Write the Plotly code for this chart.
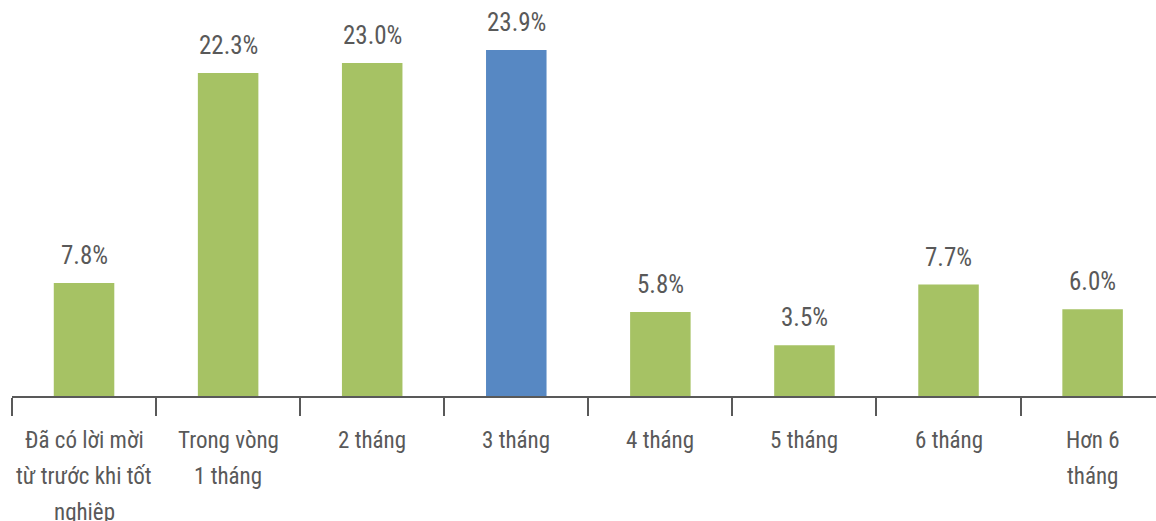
import plotly.graph_objects as go

# Time to first job after graduation (share of respondents, %)
categories = [
    "Đã có lời mời<br>từ trước khi tốt<br>nghiệp",
    "Trong vòng<br>1 tháng",
    "2 tháng",
    "3 tháng",
    "4 tháng",
    "5 tháng",
    "6 tháng",
    "Hơn 6<br>tháng",
]
values = [7.8, 22.3, 23.0, 23.9, 5.8, 3.5, 7.7, 6.0]
labels = ["7.8%", "22.3%", "23.0%", "23.9%", "5.8%", "3.5%", "7.7%", "6.0%"]

GREEN = "#A6C264"
BLUE = "#5788C3"
TEXT = "#595959"
FONT = "Liberation Sans Narrow, Roboto Condensed, Liberation Sans, sans-serif"

colors = [BLUE if c == "3 tháng" else GREEN for c in categories]

fig = go.Figure(
    go.Bar(
        x=categories,
        y=values,
        marker=dict(color=colors, line=dict(width=0)),
        width=0.42,
        hoverinfo="skip",
    )
)

# value labels above the bars
for c, v, t in zip(categories, values, labels):
    fig.add_annotation(
        x=c, y=v, text=t, showarrow=False,
        yanchor="bottom", yshift=11,
        font=dict(family=FONT, size=25, color=TEXT),
    )

# category labels, one annotation per line for wider line spacing
LINE_STEP = 36
for c in categories:
    for i, line in enumerate(c.split("<br>")):
        fig.add_annotation(
            x=c, xref="x", y=0, yref="paper", text=line, showarrow=False,
            yanchor="middle", yshift=-44 - LINE_STEP * i,
            font=dict(family=FONT, size=23, color=TEXT),
        )

fig.update_layout(
    width=1156,
    height=521,
    margin=dict(l=12, r=0, t=0, b=125),
    paper_bgcolor="white",
    plot_bgcolor="white",
    showlegend=False,
    bargap=0.58,
)

fig.update_xaxes(
    type="category",
    range=[-0.5, 7.44],
    automargin=False,
    showticklabels=False,
    showline=True,
    linecolor=TEXT,
    linewidth=2,
    ticks="outside",
    tickson="boundaries",
    ticklen=18,
    tickwidth=2,
    tickcolor=TEXT,
    showgrid=False,
    zeroline=False,
)
fig.update_yaxes(
    range=[0, 27.35],
    visible=False,
    showgrid=False,
    zeroline=False,
    automargin=False,
)

fig.write_html("out.html")
